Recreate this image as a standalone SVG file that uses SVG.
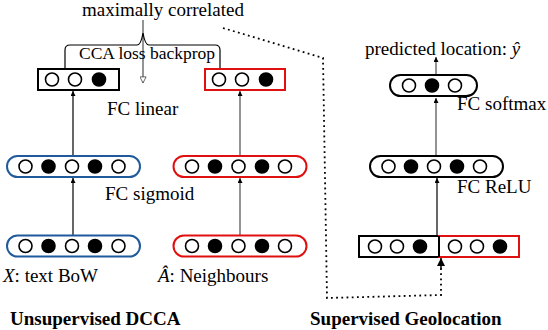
<svg xmlns="http://www.w3.org/2000/svg" width="548" height="330" viewBox="0 0 548 330">
<defs>
<style>
text{font-family:'Liberation Serif','Times New Roman',Times,serif;font-size:19px;fill:#000}
.b{font-weight:bold}
.it{font-style:italic}
.o{fill:#fff;stroke:#000;stroke-width:1.6}
.f{fill:#000;stroke:#000;stroke-width:1.6}
.bk{fill:#fff;stroke:#000;stroke-width:2}
.rd{fill:#fff;stroke:#e01010;stroke-width:2}
.bl{fill:#fff;stroke:#1f5b9b;stroke-width:2}
.ln{stroke:#000;stroke-width:1.2;fill:none}
.gl{stroke:#666;stroke-width:1.4;fill:none}
.dot{stroke:#000;stroke-width:1.8;fill:none;stroke-dasharray:1.8 3.4}
</style>
<marker id="ah" viewBox="0 0 6 6" refX="6" refY="3" markerWidth="5" markerHeight="5" markerUnits="userSpaceOnUse" orient="auto">
<path d="M0,0 L6,3 L0,6 Z" fill="#000"/>
</marker>
<marker id="ahh" viewBox="0 0 8 8" refX="7.5" refY="4" markerWidth="7" markerHeight="7" markerUnits="userSpaceOnUse" orient="auto">
<path d="M0.5,0.5 L7.5,4 L0.5,7.5 Z" fill="#fff" stroke="#555" stroke-width="1"/>
</marker>
<marker id="ahd" viewBox="0 0 8 8" refX="8" refY="4" markerWidth="9" markerHeight="8" markerUnits="userSpaceOnUse" orient="auto">
<path d="M0,0 L8,4 L0,8 Z" fill="#000"/>
</marker>
</defs>

<g id="connectors">
<line class="ln" x1="73" y1="235" x2="73" y2="178" marker-end="url(#ah)"/>
<line class="gl" x1="240" y1="235" x2="240" y2="178" marker-end="url(#ah)"/>
<line class="ln" x1="73" y1="156" x2="73" y2="91" marker-end="url(#ah)"/>
<line class="gl" x1="240" y1="156" x2="240" y2="91" marker-end="url(#ah)"/>
<line class="ln" x1="437" y1="236" x2="437" y2="178" marker-end="url(#ah)"/>
<line class="gl" x1="436" y1="156" x2="436" y2="98" marker-end="url(#ah)"/>
<line class="gl" x1="436" y1="75" x2="436" y2="57" marker-end="url(#ah)"/>
<line class="gl" x1="143" y1="20" x2="143" y2="83" marker-end="url(#ahh)"/>
<path class="ln" d="M65,68 V50 Q65,45 70,45 H137 Q141,45 143,33 Q145,45 149,45 H215 Q220,45 220,50 V68" stroke-width="1.3"/>
<path class="dot" d="M223,28 L323,58 L327,298 L441,295 L441,266"/>
<line x1="441" y1="268" x2="441" y2="258" stroke="#000" stroke-width="1.5" marker-end="url(#ahd)"/>
</g>

<g id="text-bow">
<rect class="bl" x="7" y="235.5" width="133" height="21" rx="10.5"/>
<circle class="o" cx="25.5" cy="246" r="6.5"/><circle class="f" cx="48.5" cy="246" r="6.5"/><circle class="o" cx="72" cy="246" r="6.5"/><circle class="f" cx="95" cy="246" r="6.5"/><circle class="o" cx="118.5" cy="246" r="6.5"/>
</g>
<g id="neighbours">
<rect class="rd" x="173.5" y="235.5" width="133" height="21" rx="10.5"/>
<circle class="o" cx="192" cy="246" r="6.5"/><circle class="f" cx="215" cy="246" r="6.5"/><circle class="o" cx="238.5" cy="246" r="6.5"/><circle class="f" cx="262" cy="246" r="6.5"/><circle class="o" cx="285" cy="246" r="6.5"/>
</g>
<g id="sigmoid-left">
<rect class="bl" x="7" y="156" width="133" height="21" rx="10.5"/>
<circle class="o" cx="25.5" cy="166.5" r="6.5"/><circle class="f" cx="48.5" cy="166.5" r="6.5"/><circle class="o" cx="72" cy="166.5" r="6.5"/><circle class="f" cx="95" cy="166.5" r="6.5"/><circle class="o" cx="118.5" cy="166.5" r="6.5"/>
</g>
<g id="sigmoid-right">
<rect class="rd" x="173.5" y="156" width="133" height="21" rx="10.5"/>
<circle class="o" cx="192" cy="166.5" r="6.5"/><circle class="f" cx="215" cy="166.5" r="6.5"/><circle class="o" cx="238.5" cy="166.5" r="6.5"/><circle class="f" cx="262" cy="166.5" r="6.5"/><circle class="o" cx="285" cy="166.5" r="6.5"/>
</g>
<g id="linear-left">
<rect class="bk" x="38" y="69" width="81" height="21"/>
<circle class="o" cx="52" cy="79.5" r="6.5"/><circle class="o" cx="75" cy="79.5" r="6.5"/><circle class="f" cx="99" cy="79.5" r="6.5"/>
</g>
<g id="linear-right">
<rect class="rd" x="205" y="69" width="80" height="21"/>
<circle class="o" cx="219" cy="79.5" r="6.5"/><circle class="o" cx="242" cy="79.5" r="6.5"/><circle class="f" cx="266" cy="79.5" r="6.5"/>
</g>
<g id="concat">
<rect class="bk" x="359" y="236" width="80" height="21"/>
<rect class="rd" x="439" y="236" width="80" height="21"/>
<line x1="439" y1="236" x2="439" y2="257" stroke="#000" stroke-width="2"/>
<circle class="o" cx="375" cy="246.5" r="6.5"/><circle class="o" cx="397" cy="246.5" r="6.5"/><circle class="f" cx="420" cy="246.5" r="6.5"/>
<circle class="o" cx="455" cy="246.5" r="6.5"/><circle class="o" cx="477" cy="246.5" r="6.5"/><circle class="f" cx="500" cy="246.5" r="6.5"/>
</g>
<g id="relu">
<rect class="bk" x="370" y="156" width="133" height="21" rx="10.5"/>
<circle class="o" cx="388.5" cy="166.5" r="6.5"/><circle class="f" cx="411" cy="166.5" r="6.5"/><circle class="o" cx="434" cy="166.5" r="6.5"/><circle class="f" cx="457" cy="166.5" r="6.5"/><circle class="o" cx="480" cy="166.5" r="6.5"/>
</g>
<g id="softmax">
<rect class="bk" x="390" y="75" width="87" height="21" rx="10.5"/>
<circle class="o" cx="409" cy="85.5" r="6.5"/><circle class="f" cx="432" cy="85.5" r="6.5"/><circle class="o" cx="455" cy="85.5" r="6.5"/>
</g>

<g id="labels" font-family="Liberation Serif, serif">
<text x="82" y="16">maximally correlated</text>
<text x="79" y="59" style="font-size:17.5px">CCA loss backprop</text>
<text x="107" y="115">FC linear</text>
<text x="105" y="200">FC sigmoid</text>
<text x="3" y="282"><tspan class="it">X</tspan>: text BoW</text>
<text x="158" y="282"><tspan class="it">Â</tspan>: Neighbours</text>
<text class="b" x="10" y="325">Unsupervised DCCA</text>
<text x="365" y="55">predicted location: <tspan class="it">ŷ</tspan></text>
<text x="457" y="110">FC softmax</text>
<text x="457" y="193">FC ReLU</text>
<text class="b" x="310" y="325">Supervised Geolocation</text>
</g>
</svg>
